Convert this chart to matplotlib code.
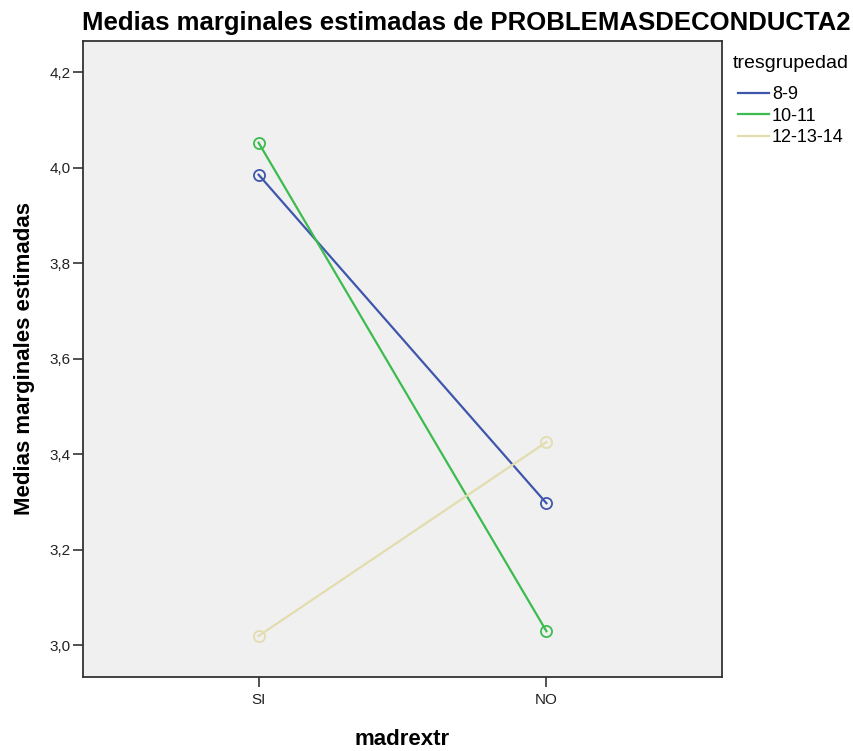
import matplotlib
matplotlib.use('Agg')
import matplotlib.pyplot as plt
import numpy as np

plt.rcParams['font.family'] = ['Liberation Sans', 'DejaVu Sans']

# estimated marginal means by group
categories = ['SI', 'NO']
groups = ['8-9', '10-11', '12-13-14']
means_8_9 = [3.985, 3.297]
means_10_11 = [4.052, 3.029]
means_12_14 = [3.019, 3.425]
colors = ['#3E56AC', '#3CBC4E', '#E2DDAE']
yticks = [3.0, 3.2, 3.4, 3.6, 3.8, 4.0, 4.2]

fig = plt.figure(figsize=(8.54, 7.51), dpi=100)
ax = fig.add_axes([83/854, 1 - 677/751, (722 - 83)/854, (677 - 41)/751])
ax.set_facecolor('#F0F0F0')

x = np.arange(len(categories))
for vals, col, name in zip([means_8_9, means_10_11, means_12_14], colors, groups):
    ax.plot(x, vals, color=col, lw=1.6, marker='o', ms=8, mfc='none', mew=1.3, label=name)

ax.set_xlim(-0.61, 1.61)
ax.set_ylim(2.933, 4.265)
ax.set_xticks(x)
ax.set_xticklabels(categories)
ax.set_yticks(yticks)
ax.set_yticklabels([f'{v:.1f}'.replace('.', ',') for v in yticks])
ax.tick_params(axis='both', labelsize=11, length=7.5, width=1.2, color='#333333',
               labelcolor='#222222', pad=1.5)
ax.tick_params(axis='x', pad=4)
for side in ['left', 'bottom', 'top', 'right']:
    ax.spines[side].set_color('#333333')
    ax.spines[side].set_linewidth(1.3)

ax.set_xlabel('madrextr', fontsize=16, fontweight='bold', labelpad=16)
ax.set_ylabel('Medias marginales estimadas', fontsize=16, fontweight='bold', labelpad=10)
fig.text(466/854, 1 - 23/751, 'Medias marginales estimadas de PROBLEMASDECONDUCTA2',
         fontsize=18.5, fontweight='bold', ha='center', va='center')

# legend title drawn on its own so the gap above the entries can be set
fig.text(733/854, 1 - 63/751, 'tresgrupedad', fontsize=14, ha='left', va='center')
leg = ax.legend(loc='upper left', bbox_to_anchor=(738/854, 1 - 86/751),
                bbox_transform=fig.transFigure, frameon=False, fontsize=13,
                handlelength=1.72, handletextpad=0.17, labelspacing=0.26,
                borderpad=0, borderaxespad=0)
for h in leg.legend_handles:
    h.set_marker('')

fig.savefig('out.png', dpi=100)
